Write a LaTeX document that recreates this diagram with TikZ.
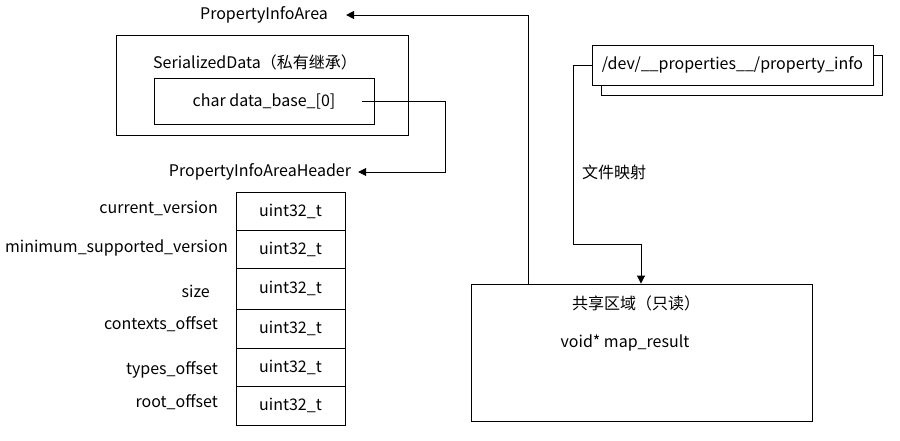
\documentclass[tikz,border=0pt]{standalone}
\usepackage{fontspec}
\setmainfont{Noto Sans CJK SC}
\usetikzlibrary{arrows.meta}
\tikzset{
  box/.style={draw, line width=0.9pt, fill=white, inner sep=0pt},
  lbl/.style={inner sep=0pt, font=\fontsize{16}{18}\selectfont},
  wire/.style={line width=0.9pt},
  tip/.style={wire, -{Triangle[width=8pt,length=8pt]}}
}

\begin{document}
\begin{tikzpicture}[x=1pt, y=-1pt]
			%%%%% START %%%%%
			\useasboundingbox (0, 0) rectangle (900, 441);
			
			\node[lbl] (area) at (264, 15) {PropertyInfoArea};
			\node[box, minimum width=292pt, minimum height=100pt] (outer) at (262, 85) {};
			\node[lbl] (serial) at (255, 62) {SerializedData（私有继承）};
			\node[box, minimum width=220pt, minimum height=46pt, lbl] (dbase) at (264, 101) {char data\_base\_[0]};
			\coordinate (dbaseout) at (362, 101);
			\node[lbl] (header) at (260, 172) {PropertyInfoAreaHeader};
			
			\node[box, minimum width=109pt, minimum height=38pt, lbl] (r1) at (290.5, 211) {uint32\_t};
			\node[box, minimum width=109pt, minimum height=38pt, lbl] (r2) at (290.5, 249) {uint32\_t};
			\node[box, minimum width=109pt, minimum height=41pt, lbl] (r3) at (290.5, 288.5) {uint32\_t};
			\node[box, minimum width=109pt, minimum height=39pt, lbl] (r4) at (290.5, 328.5) {uint32\_t};
			\node[box, minimum width=109pt, minimum height=38pt, lbl] (r5) at (290.5, 367) {uint32\_t};
			\node[box, minimum width=109pt, minimum height=39pt, lbl] (r6) at (290.5, 405.5) {uint32\_t};
			
			\node[lbl, anchor=east] (f1) at (218, 208) {current\_version};
			\node[lbl, anchor=east] (f2) at (228, 248) {minimum\_supported\_version};
			\node[lbl, anchor=east] (f3) at (210, 291) {size};
			\node[lbl, anchor=east] (f4) at (218, 324) {contexts\_offset};
			\node[lbl, anchor=east] (f5) at (218, 370) {types\_offset};
			\node[lbl, anchor=east] (f6) at (218, 402) {root\_offset};
			
			\node[box, minimum width=281pt, minimum height=40pt] (fileshadow) at (741.5, 75) {};
			\node[box, minimum width=281pt, minimum height=40pt, lbl] (file) at (732.5, 65) {/dev/\_\_properties\_\_/property\_info};
			\node[lbl] (mmap) at (614, 172) {文件映射};
			
			\node[box, minimum width=341pt, minimum height=137pt] (shared) at (641.5, 352.5) {};
			\node[lbl] (sharedtitle) at (636, 303) {共享区域（只读）};
			\node[lbl] (mapres) at (625, 343) {void* map\_result};
			
			\draw[tip] (dbaseout) -- (445, 101) -- (445, 172) -- ([xshift=7pt]header.east);
			\draw[tip] (file.west) -- (573, 65) -- (573, 244) -- (641, 244) -- (shared.north -| 641, 0);
			\draw[tip] (shared.north -| 528, 0) -- (528, 15) -- ([xshift=18pt]area.east);
			%%%%% END %%%%%
		\end{tikzpicture}
\end{document}
